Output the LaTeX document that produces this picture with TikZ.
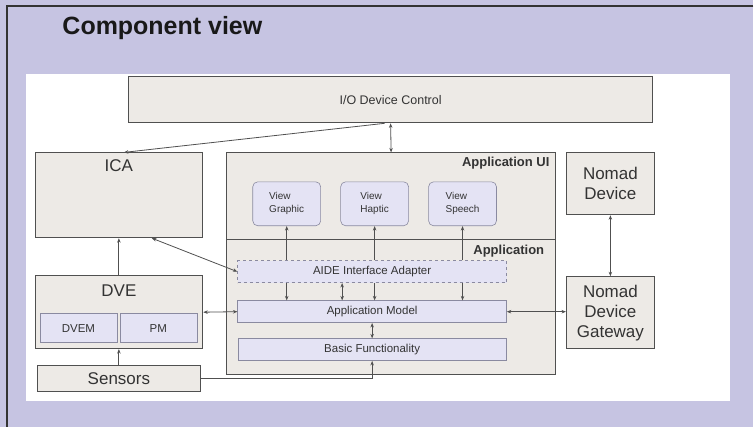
\documentclass[tikz,border=0pt]{standalone}
\usepackage{fontspec}
\setmainfont{Liberation Sans}
\usetikzlibrary{arrows.meta}

\definecolor{lilac}{HTML}{C6C4E2}
\definecolor{boxfill}{HTML}{EDEAE6}
\definecolor{subfill}{HTML}{E4E3F4}
\definecolor{boxline}{HTML}{505050}
\definecolor{subline}{HTML}{8A8AA0}
\definecolor{darktext}{HTML}{333333}

\begin{document}
\begin{tikzpicture}[x=1pt, y=-1pt,
    box/.style={draw=boxline, fill=boxfill, line width=0.9pt, inner sep=0pt, text=darktext},
    sub/.style={draw=subline, fill=subfill, line width=0.6pt, inner sep=0pt, text=darktext,
        font=\fontsize{11.5}{13}\selectfont},
    big/.style={font=\fontsize{17}{20}\selectfont},
    conn/.style={draw=boxline, line width=0.8pt, >={Stealth[length=4.5pt,width=3.5pt]}}]
    % frame
    \fill [lilac] (0,0) rectangle (754,427);
    \draw [line width=1.5pt, black!80] (754,6) -- (7,6) -- (7,427);
    \fill [white] (26,74) rectangle (731,401);
    \node [anchor=west, font=\bfseries\fontsize{25}{29}\selectfont, text=black!90] (title) at (59,28) {Component view};

    % boxes
    \node [box, minimum width=524pt, minimum height=46pt, font=\fontsize{12.5}{14}\selectfont] (io) at (391,100) {I/O Device Control};
    \node [box, minimum width=168pt, minimum height=85pt,
        label={[anchor=north, yshift=-4pt, big, text=darktext]north:ICA}] (ica) at (119,195.5) {};
    \node [box, minimum width=329pt, minimum height=222pt,
        label={[anchor=north east, xshift=-3pt, yshift=-1pt, font=\bfseries\fontsize{13}{15}\selectfont, text=darktext]north east:Application UI}] (app) at (391.5,264) {};
    \coordinate (split) at (391.5,240);
    \draw [boxline, line width=0.9pt] (app.west |- split) -- (app.east |- split)
        node [anchor=north east, xshift=-8pt, yshift=-2pt, font=\bfseries\fontsize{13}{15}\selectfont, text=darktext] (applbl) {Application};
    \node [box, minimum width=88pt, minimum height=62pt, big, align=center] (nd) at (611,184) {Nomad\\Device};
    \node [box, minimum width=88pt, minimum height=72pt, big, align=center] (gw) at (611,313) {Nomad\\Device\\Gateway};
    \node [box, minimum width=168pt, minimum height=73pt,
        label={[anchor=north, yshift=-6pt, big, text=darktext]north:DVE}] (dve) at (119,312.5) {};
    \node [sub, minimum width=77pt, minimum height=29pt] (dvem) at (78.5,328.5) {DVEM};
    \node [sub, minimum width=77pt, minimum height=29pt] (pm) at (158.5,328.5) {PM};
    \node [box, minimum width=164pt, minimum height=26pt, big] (sens) at (119,379) {Sensors};

    % views
    \foreach \nm/\x/\txt in {vg/287/Graphic, vh/375/Haptic, vs/463/Speech}
        \node [sub, rounded corners=5pt, minimum width=68pt, minimum height=44pt, align=left,
            font=\fontsize{10}{13}\selectfont] (\nm) at (\x,204) {View\\\txt};

    % application layers
    \node [sub, dashed, minimum width=269pt, minimum height=22pt] (aide) at (372.5,272) {AIDE Interface Adapter};
    \node [sub, minimum width=269pt, minimum height=22pt] (model) at (372.5,312) {Application Model};
    \node [sub, minimum width=268pt, minimum height=22pt] (basic) at (372.5,350) {Basic Functionality};

    % connectors
    \draw [conn, ->] ([xshift=-6pt]io.south) -- ([xshift=5pt]ica.north);
    \draw [conn, <->] (io.south) -- (app.north);
    \foreach \nm in {vg, vh, vs} {
        \draw [conn, ->] (aide.north -| \nm.south) -- (\nm.south);
        \draw [conn, ->] (aide.south -| \nm.south) -- (model.north -| \nm.south);
    }
    \draw [conn, <->] ([xshift=-30pt]aide.south) -- ([xshift=-30pt]model.north);
    \draw [conn, <->] (model.south) -- (basic.north);
    \draw [conn, <->] (aide.west) -- ([xshift=33pt]ica.south);
    \draw [conn, <->] (dve.east) -- (model.west);
    \draw [conn, <->] (model.east) -- (gw.west |- model.east);
    \draw [conn, <->] (nd.south) -- (gw.north);
    \draw [conn, ->] (dve.north) -- (ica.south);
    \draw [conn, ->] (sens.north) -- (dve.south);
    \draw [conn, ->] (sens.east) -| (basic.south);
\end{tikzpicture}
\end{document}
